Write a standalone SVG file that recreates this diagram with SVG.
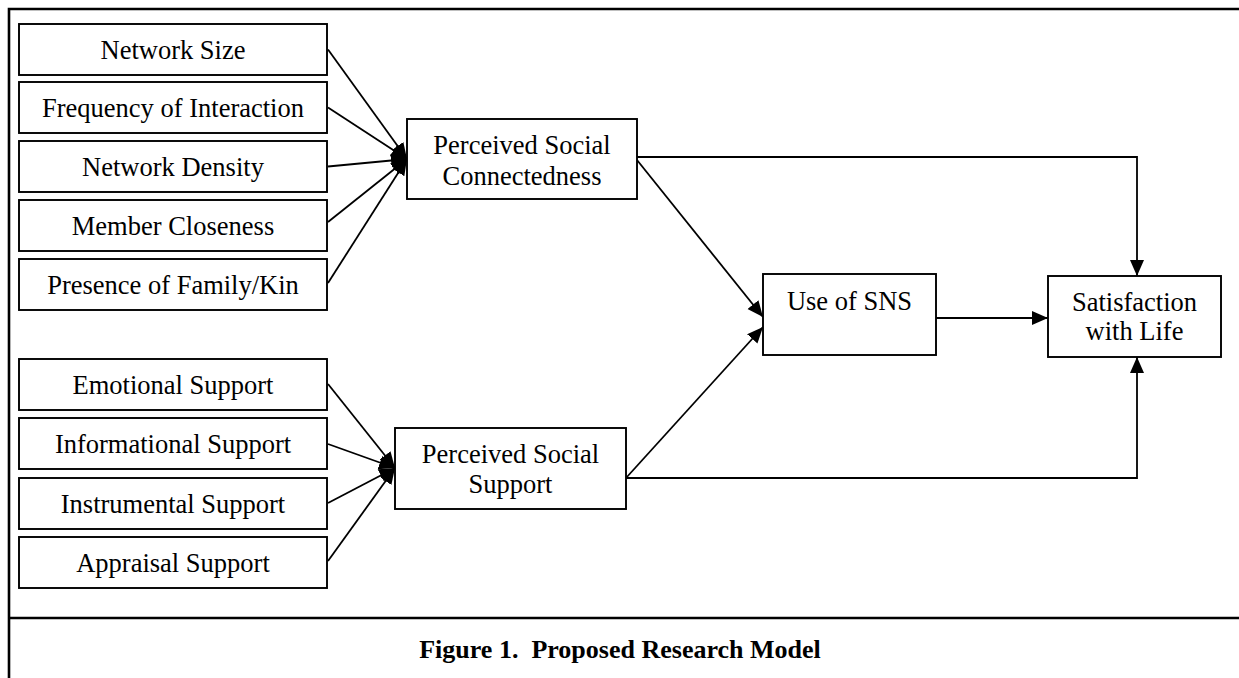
<svg xmlns="http://www.w3.org/2000/svg" width="1239" height="678" viewBox="0 0 1239 678">
<defs>
<marker id="arr" markerUnits="userSpaceOnUse" markerWidth="17" markerHeight="15" refX="16" refY="7" orient="auto">
<path d="M0,0 L16,7 L0,14 z" fill="#000"/>
</marker>
<style>
.box{fill:#fff;stroke:#000;stroke-width:1.9}
.t{font-family:"Liberation Serif","Times New Roman",serif;font-size:26.5px;fill:#000;text-anchor:middle}
.c{fill:none;stroke:#000;stroke-width:1.8;marker-end:url(#arr)}
.frame{stroke:#000;stroke-width:2.6;fill:none}
.cap{font-family:"Liberation Serif","Times New Roman",serif;font-size:26px;font-weight:bold;fill:#000;text-anchor:middle}
</style>
</defs>
<rect width="1239" height="678" fill="#fff"/>
<g id="frame">
<path class="frame" d="M1239,9 H9 V678 M9,618 H1239"/>
</g>
<g id="connectors">
<line class="c" x1="328" y1="49.5" x2="407" y2="159"/>
<line class="c" x1="328" y1="107.5" x2="407" y2="159"/>
<line class="c" x1="328" y1="166.5" x2="407" y2="159"/>
<line class="c" x1="328" y1="222" x2="407" y2="159"/>
<line class="c" x1="328" y1="283" x2="407" y2="159"/>
<line class="c" x1="328" y1="384" x2="395" y2="468"/>
<line class="c" x1="328" y1="444" x2="395" y2="468"/>
<line class="c" x1="328" y1="503" x2="395" y2="468"/>
<line class="c" x1="328" y1="561" x2="395" y2="468"/>
<path class="c" d="M637,157 H1137 V276"/>
<line class="c" x1="637" y1="160" x2="763" y2="317"/>
<line class="c" x1="626" y1="478" x2="763" y2="327"/>
<path class="c" d="M626,478 H1137 V357"/>
<line class="c" x1="936" y1="318" x2="1048" y2="318"/>
</g>
<g id="n-network-size"><rect class="box" x="19" y="24" width="308" height="51"/><text class="t" x="173" y="59">Network Size</text></g>
<g id="n-frequency"><rect class="box" x="19" y="82" width="308" height="51"/><text class="t" x="173" y="117">Frequency of Interaction</text></g>
<g id="n-density"><rect class="box" x="19" y="141" width="308" height="51"/><text class="t" x="173" y="176">Network Density</text></g>
<g id="n-closeness"><rect class="box" x="19" y="200" width="308" height="51"/><text class="t" x="173" y="235">Member Closeness</text></g>
<g id="n-family"><rect class="box" x="19" y="259" width="308" height="51"/><text class="t" x="173" y="294">Presence of Family/Kin</text></g>
<g id="n-emotional"><rect class="box" x="19" y="359" width="308" height="51"/><text class="t" x="173" y="394">Emotional Support</text></g>
<g id="n-informational"><rect class="box" x="19" y="418" width="308" height="51"/><text class="t" x="173" y="453">Informational Support</text></g>
<g id="n-instrumental"><rect class="box" x="19" y="478" width="308" height="51"/><text class="t" x="173" y="513">Instrumental Support</text></g>
<g id="n-appraisal"><rect class="box" x="19" y="537" width="308" height="51"/><text class="t" x="173" y="572">Appraisal Support</text></g>
<g id="n-psc"><rect class="box" x="407" y="119" width="230" height="80"/><text class="t" x="522" y="154">Perceived Social</text><text class="t" x="522" y="185">Connectedness</text></g>
<g id="n-pss"><rect class="box" x="395" y="428" width="231" height="81"/><text class="t" x="510.5" y="463">Perceived Social</text><text class="t" x="510.5" y="493">Support</text></g>
<g id="n-sns"><rect class="box" x="763" y="274" width="173" height="81"/><text class="t" x="849.5" y="310">Use of SNS</text></g>
<g id="n-swl"><rect class="box" x="1048" y="276" width="173" height="81"/><text class="t" x="1134.5" y="311">Satisfaction</text><text class="t" x="1134.5" y="340">with Life</text></g>
<g id="caption"><text class="cap" x="620" y="658" xml:space="preserve">Figure 1.  Proposed Research Model</text></g>
</svg>
